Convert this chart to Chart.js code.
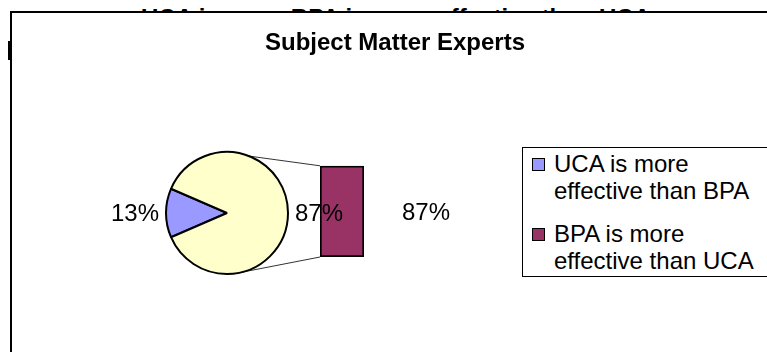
<!DOCTYPE html>
<html>
<head>
<meta charset="utf-8">
<script src="https://cdn.jsdelivr.net/npm/chart.js@4"></script>
<style>
  body { margin: 0; background: #fff; }
  #wrap { position: relative; width: 767px; height: 352px; overflow: hidden; background: #fff;
          font-family: "Liberation Sans", Arial, sans-serif; }
  #bgtext { position: absolute; left: 141px; top: 6px; font-weight: bold; font-size: 24px;
            line-height: 24px; white-space: nowrap; color: #000; }
  #mark { position: absolute; left: 8px; top: 41px; width: 3px; height: 19px; background: #000; }
  #frame { position: absolute; left: 10px; top: 11px; width: 800px; height: 400px; background: #fff;
           border-left: 2px solid #000; border-top: 2px solid #000; }
  #barChart { position: absolute; left: 23px; top: 0; }
  #pieChart { position: absolute; left: 100px; top: 140px; }
  #legend { position: absolute; left: 522px; top: 147px; width: 400px; height: 128px;
            border: 1px solid #000; background: #fff; font-size: 24px; line-height: 27px; }
  .item { position: absolute; left: 31px; white-space: nowrap; }
  .box { position: absolute; left: -22px; top: 8px; width: 11px; height: 11px; border: 1px solid #000; }
</style>
</head>
<body>
<div id="wrap">
  <div id="bgtext">UCA is more BPA is more effective than UCA</div>
  <div id="mark"></div>
  <div id="frame"></div>
  <canvas id="barChart" width="744" height="352"></canvas>
  <canvas id="pieChart" width="260" height="150"></canvas>
  <div id="legend"></div>
</div>
<script>
const chartTitle = 'Subject Matter Experts';
const categories = ['UCA is more effective than BPA', 'BPA is more effective than UCA'];
const legendLines = [['UCA is more', 'effective than BPA'], ['BPA is more', 'effective than UCA']];
const pieLabels = ['UCA is more effective than BPA', 'Other'];
const pieValues = [13, 87];
const barLabels = ['BPA is more effective than UCA'];
const barValues = [87];
const pieColors = ['#9999FF', '#FFFFCC'];
const barColor = '#993366';

const FONT = '"Liberation Sans", Arial, sans-serif';
const pieTotal = pieValues.reduce((a, b) => a + b, 0);

// legend
const legend = document.getElementById('legend');
const legendColors = [pieColors[0], barColor];
legendLines.forEach((lines, i) => {
    const item = document.createElement('div');
    item.className = 'item';
    item.style.top = (2 + i * 70) + 'px';
    item.innerHTML = `<span class="box" style="background:${legendColors[i]}"></span>${lines.join('<br>')}`;
    legend.appendChild(item);
});

// percentage labels next to the pie
const pieLabelPlugin = {
    id: 'pieLabels',
    afterDatasetsDraw(chart) {
        const arc = chart.getDatasetMeta(0).data[0];
        const { x, y, outerRadius } = arc.getProps(['x', 'y', 'outerRadius'], true);
        const ctx = chart.ctx;
        ctx.save();
        ctx.font = `24px ${FONT}`;
        ctx.fillStyle = '#000';
        ctx.textBaseline = 'middle';
        ctx.textAlign = 'right';
        ctx.fillText(Math.round(pieValues[0] / pieTotal * 100) + '%', x - outerRadius - 7, y + 1);
        ctx.textAlign = 'left';
        ctx.fillText(Math.round(pieValues[1] / pieTotal * 100) + '%', x + outerRadius + 7, y + 1);
        ctx.restore();
    }
};

const pieChart = new Chart(document.getElementById('pieChart'), {
    type: 'pie',
    data: {
        labels: pieLabels,
        datasets: [{
            data: pieValues,
            backgroundColor: pieColors,
            borderColor: '#000',
            borderWidth: 2
        }]
    },
    options: {
        responsive: false,
        animation: false,
        rotation: 270 - (pieValues[0] / pieTotal * 360) / 2,
        layout: { padding: { left: 65, right: 71, top: 11, bottom: 15 } },
        plugins: { legend: { display: false }, tooltip: { enabled: false } }
    },
    plugins: [pieLabelPlugin]
});

// connector lines from pie to bar, and the bar's label
const barExtras = {
    id: 'barExtras',
    beforeDatasetsDraw(chart) {
        const bar = chart.getDatasetMeta(0).data[0].getProps(['x', 'y', 'base', 'width'], true);
        const arc = pieChart.getDatasetMeta(0).data[0].getProps(['x', 'y', 'outerRadius'], true);
        const dx = 100 - 23, dy = 140;
        const cx = arc.x + dx, cy = arc.y + dy, r = arc.outerRadius;
        const a1 = -69 * Math.PI / 180, a2 = 81 * Math.PI / 180;
        const left = bar.x - bar.width / 2;
        const ctx = chart.ctx;
        ctx.save();
        ctx.strokeStyle = '#333';
        ctx.lineWidth = 1;
        ctx.beginPath();
        ctx.moveTo(cx + r * Math.cos(a1), cy + r * Math.sin(a1));
        ctx.lineTo(left, bar.y);
        ctx.moveTo(cx + r * Math.cos(a2), cy + r * Math.sin(a2));
        ctx.lineTo(left, bar.base);
        ctx.stroke();
        ctx.restore();
    },
    afterDatasetsDraw(chart) {
        const bar = chart.getDatasetMeta(0).data[0].getProps(['x', 'y', 'base', 'width'], true);
        const ctx = chart.ctx;
        ctx.save();
        ctx.font = `24px ${FONT}`;
        ctx.fillStyle = '#000';
        ctx.textBaseline = 'middle';
        ctx.textAlign = 'left';
        ctx.fillText(Math.round(barValues[0] / pieTotal * 100) + '%', bar.x + bar.width / 2 + 38, (bar.y + bar.base) / 2 + 2);
        ctx.restore();
    }
};

const hiddenAxis = (pos, w) => ({
    position: pos,
    display: true,
    ticks: { display: false },
    grid: { display: false },
    border: { display: false },
    afterFit: s => { s.width = w; }
});

new Chart(document.getElementById('barChart'), {
    type: 'bar',
    data: {
        labels: barLabels,
        datasets: [{
            data: barValues,
            backgroundColor: barColor,
            borderColor: '#000',
            borderWidth: 2,
            borderSkipped: false,
            barPercentage: 1,
            categoryPercentage: 1
        }]
    },
    options: {
        responsive: false,
        animation: false,
        layout: { padding: { bottom: 95 } },
        plugins: {
            legend: { display: false },
            tooltip: { enabled: false },
            title: {
                display: true,
                text: chartTitle,
                color: '#000',
                font: { family: FONT, size: 24, weight: 'bold', lineHeight: 1.2 },
                padding: { top: 29, bottom: 108 }
            }
        },
        scales: {
            x: { display: false },
            y: Object.assign(hiddenAxis('left', 297), { min: 0, max: barValues.reduce((a, b) => a + b, 0) }),
            y2: hiddenAxis('right', 403)
        }
    },
    plugins: [barExtras]
});
</script>
</body>
</html>
